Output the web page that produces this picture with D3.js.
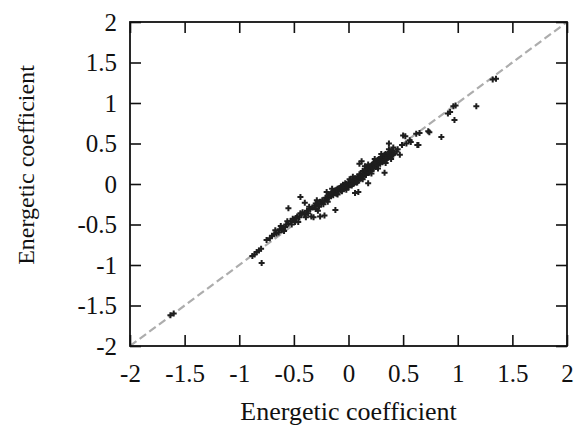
<!DOCTYPE html>
<html>
<head>
<meta charset="utf-8">
<script src="https://cdn.jsdelivr.net/npm/d3@7"></script>
<style>
	body { margin: 0; background: #fff; }
	svg text { font-family: "Liberation Serif", "DejaVu Serif", serif; fill: #111; }
</style>
</head>
<body>
<svg width="577" height="427"></svg>
<script>
// estimated coefficient vs. reference coefficient
var points = [
	[-1.63, -1.62], [-1.60, -1.60],
	[-0.88, -0.89], [-0.86, -0.87], [-0.84, -0.84], [-0.82, -0.82], [-0.80, -0.80], [-0.795, -0.975],
	[-0.75, -0.69], [-0.72, -0.67], [-0.70, -0.64], [-0.68, -0.62], [-0.67, -0.57], [-0.66, -0.61],
	[-0.64, -0.60], [-0.63, -0.56], [-0.62, -0.52], [-0.61, -0.57], [-0.60, -0.54], [-0.59, -0.58],
	[-0.58, -0.53], [-0.57, -0.50], [-0.56, -0.46], [-0.55, -0.49], [-0.55, -0.30], [-0.53, -0.46],
	[-0.52, -0.50], [-0.51, -0.43], [-0.50, -0.44], [-0.49, -0.47], [-0.48, -0.42], [-0.47, -0.40],
	[-0.46, -0.47], [-0.45, -0.41], [-0.44, -0.16], [-0.44, -0.36], [-0.43, -0.38], [-0.42, -0.35],
	[-0.40, -0.23], [-0.40, -0.37], [-0.39, -0.41], [-0.38, -0.33], [-0.37, -0.36], [-0.36, -0.28],
	[-0.35, -0.31], [-0.34, -0.40], [-0.33, -0.29], [-0.32, -0.41], [-0.31, -0.27], [-0.30, -0.31],
	[-0.30, -0.24], [-0.29, -0.20], [-0.28, -0.25], [-0.28, -0.33], [-0.27, -0.28], [-0.26, -0.22],
	[-0.26, -0.40], [-0.25, -0.24], [-0.24, -0.20], [-0.23, -0.25], [-0.22, -0.39], [-0.22, -0.21],
	[-0.21, -0.17], [-0.20, -0.10], [-0.20, -0.19], [-0.19, -0.15], [-0.19, -0.22], [-0.18, -0.17],
	[-0.18, -0.13], [-0.17, -0.13], [-0.16, -0.15], [-0.16, -0.12], [-0.15, -0.11], [-0.15, -0.06],
	[-0.14, -0.14], [-0.14, -0.09], [-0.13, -0.10], [-0.12, -0.32], [-0.12, -0.08], [-0.11, -0.12],
	[-0.11, -0.07], [-0.10, -0.06], [-0.10, -0.13], [-0.09, -0.09], [-0.09, -0.06], [-0.08, -0.05],
	[-0.07, -0.08], [-0.07, -0.03], [-0.06, -0.03], [-0.06, -0.09], [-0.05, -0.06], [-0.05, -0.01],
	[-0.04, -0.02], [-0.03, -0.05], [-0.03, 0.01], [-0.02, 0.00], [-0.02, -0.07], [-0.01, -0.03],
	[0.00, 0.01], [0.00, -0.04], [0.01, 0.02], [0.01, -0.01], [0.01, 0.06], [0.02, -0.01],
	[0.02, 0.05], [0.03, 0.03], [0.03, -0.02], [0.04, 0.05], [0.04, 0.00], [0.04, 0.09],
	[0.05, 0.01], [0.05, 0.04], [0.06, 0.07], [0.06, 0.03], [0.06, -0.11], [0.07, 0.02],
	[0.07, 0.06], [0.08, 0.09], [0.08, 0.06], [0.08, 0.02], [0.09, 0.04], [0.09, -0.10],
	[0.10, 0.08], [0.10, 0.12], [0.10, 0.25], [0.11, 0.11], [0.11, 0.07], [0.12, 0.07],
	[0.12, 0.10], [0.12, 0.28], [0.13, 0.12], [0.13, 0.16], [0.13, 0.06], [0.14, 0.10],
	[0.14, 0.15], [0.15, 0.13], [0.15, 0.18], [0.15, 0.22], [0.16, 0.17], [0.16, 0.11],
	[0.17, 0.15], [0.17, 0.20], [0.18, 0.19], [0.18, 0.14], [0.18, 0.24], [0.18, 0.01],
	[0.19, 0.14], [0.19, 0.21], [0.20, 0.18], [0.20, 0.22], [0.21, 0.16], [0.21, 0.20],
	[0.21, 0.13], [0.22, 0.21], [0.22, 0.24], [0.23, 0.19], [0.23, 0.26], [0.24, 0.23],
	[0.24, 0.27], [0.24, 0.31], [0.25, 0.21], [0.25, 0.24], [0.26, 0.25], [0.26, 0.29],
	[0.26, 0.26], [0.27, 0.23], [0.27, 0.30], [0.27, 0.19], [0.28, 0.27], [0.28, 0.31],
	[0.29, 0.25], [0.29, 0.28], [0.30, 0.29], [0.30, 0.33], [0.30, 0.37], [0.31, 0.27],
	[0.31, 0.34], [0.32, 0.31], [0.32, 0.35], [0.32, 0.28], [0.33, 0.30], [0.33, 0.36],
	[0.33, 0.14], [0.34, 0.33], [0.34, 0.37], [0.34, 0.26], [0.35, 0.31], [0.35, 0.36],
	[0.36, 0.35], [0.36, 0.32], [0.37, 0.50], [0.37, 0.38], [0.37, 0.43], [0.38, 0.33],
	[0.38, 0.40], [0.39, 0.37], [0.39, 0.31], [0.40, 0.37], [0.40, 0.41], [0.41, 0.36],
	[0.41, 0.45], [0.42, 0.38], [0.44, 0.40], [0.45, 0.43], [0.47, 0.36], [0.49, 0.48],
	[0.50, 0.60], [0.52, 0.59], [0.53, 0.50], [0.56, 0.54], [0.57, 0.52], [0.62, 0.62],
	[0.63, 0.48], [0.64, 0.48], [0.65, 0.63], [0.73, 0.65], [0.74, 0.64], [0.85, 0.58],
	[0.91, 0.87], [0.93, 0.89], [0.97, 0.79], [0.96, 0.96], [0.98, 0.97], [1.17, 0.96],
	[1.32, 1.29], [1.35, 1.30]
];
var xTicks = [-2, -1.5, -1, -0.5, 0, 0.5, 1, 1.5, 2];
var yTicks = [-2, -1.5, -1, -0.5, 0, 0.5, 1, 1.5, 2];
var diagonal = [-2, 2];
var xLabel = "Energetic coefficient";
var yLabel = "Energetic coefficient";

var svg = d3.select("svg"),
	margin = {top: 22, right: 10, bottom: 81, left: 130},
	width = +svg.attr("width") - margin.left - margin.right,
	height = +svg.attr("height") - margin.top - margin.bottom;

var x = d3.scaleLinear().domain([-2, 2]).range([0, width]),
	y = d3.scaleLinear().domain([-2, 2]).range([height, 0]);

// plain hyphen for negatives, like the original
var fmt = function(d) { return String(d); };

var g = svg.append("g")
	.attr("transform", "translate(" + margin.left + "," + margin.top + ")");

// y = x reference line
g.append("line")
	.attr("x1", x(diagonal[0])).attr("y1", y(diagonal[0]))
	.attr("x2", x(diagonal[1])).attr("y2", y(diagonal[1]))
	.attr("stroke", "#adadad")
	.attr("stroke-width", 2.2)
	.attr("stroke-dasharray", "8,4");

g.selectAll(".pt")
	.data(points)
	.enter().append("path")
	.attr("class", "pt")
	.attr("d", d3.symbol().type(d3.symbolCross).size(20))
	.attr("transform", function(d) { return "translate(" + x(d[0]) + "," + y(d[1]) + ")"; })
	.attr("fill", "#1e1e1e");

// inward ticks on all four sides
var tickLen = 11;
g.append("g")
	.attr("transform", "translate(0," + height + ")")
	.call(d3.axisBottom(x).tickValues(xTicks).tickSizeInner(-tickLen).tickSizeOuter(0).tickPadding(18).tickFormat(fmt))
	.call(function(a) { a.select(".domain").remove(); });
g.append("g")
	.call(d3.axisTop(x).tickValues(xTicks).tickSizeInner(-tickLen).tickSizeOuter(0).tickFormat(""))
	.call(function(a) { a.select(".domain").remove(); });
g.append("g")
	.call(d3.axisLeft(y).tickValues(yTicks).tickSizeInner(-tickLen).tickSizeOuter(0).tickPadding(13).tickFormat(fmt))
	.call(function(a) { a.select(".domain").remove(); });
g.append("g")
	.attr("transform", "translate(" + width + ",0)")
	.call(d3.axisRight(y).tickValues(yTicks).tickSizeInner(-tickLen).tickSizeOuter(0).tickFormat(""))
	.call(function(a) { a.select(".domain").remove(); });

g.selectAll(".tick line").attr("stroke", "#111").attr("stroke-width", 1.6);
g.selectAll(".tick text").attr("font-size", 25).attr("fill", "#111")
	.attr("font-family", "Liberation Serif, serif");

g.append("rect")
	.attr("width", width).attr("height", height)
	.attr("fill", "none").attr("stroke", "#111").attr("stroke-width", 1.8);

svg.append("text")
	.attr("x", margin.left + width / 2)
	.attr("y", 420)
	.attr("text-anchor", "middle")
	.attr("font-size", 26)
	.text(xLabel);

svg.append("text")
	.attr("transform", "translate(34,165) rotate(-90)")
	.attr("text-anchor", "middle")
	.attr("font-size", 24)
	.text(yLabel);
</script>
</body>
</html>
